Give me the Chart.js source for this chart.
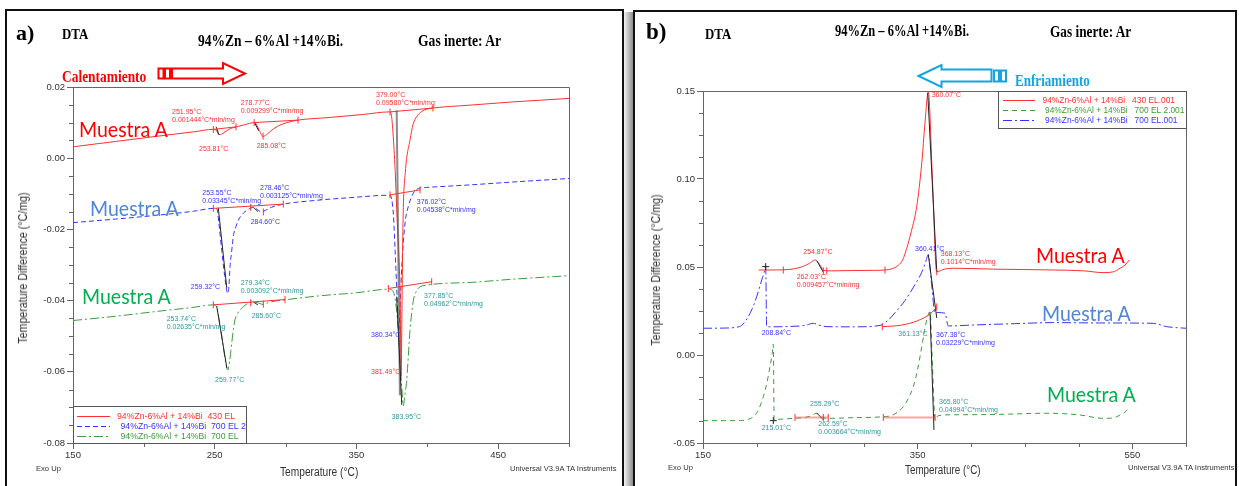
<!DOCTYPE html>
<html lang="es">
<head>
<meta charset="UTF-8">
<title>DTA 94%Zn-6%Al +14%Bi</title>
<script src="https://cdn.jsdelivr.net/npm/chart.js@4.4.1/dist/chart.umd.min.js"></script>
<style>
  body { margin: 0; background: #fff; }
  #hoja { position: relative; width: 1239px; height: 486px; overflow: hidden; font-family: "Liberation Sans", Arial, sans-serif; }
  .marco { position: absolute; border: 2px solid #111; border-bottom: none; box-sizing: border-box; height: 490px; }
  .sombra { position: absolute; left: 624px; top: 12px; width: 9px; height: 474px; background: linear-gradient(to right, #f2f2f2, #8c8c8c); }
  canvas { position: absolute; top: 0; }
  .t { position: absolute; white-space: nowrap; line-height: 1; transform-origin: 0 50%; }
  .serif { font-family: "Liberation Serif", "Times New Roman", serif; font-weight: bold; }
  .muestra { font-family: Lato, "Open Sans", sans-serif; font-size: 21px; transform: translateY(-50%) scaleX(0.93); }
  .ejeY { font-size: 12px; color: #333; transform-origin: 50% 50%; }
  .peq { font-size: 7.6px; color: #333; transform: translateY(-50%); }
</style>
</head>
<body>
<div id="hoja">
  <div class="marco" style="left:5px; top:9px; width:619px;"></div>
  <div class="sombra"></div>
  <div class="marco" style="left:633px; top:10px; width:604px;"></div>

  <canvas id="grafA" width="623" height="486" style="left:0;"></canvas>
  <canvas id="grafB" width="603" height="486" style="left:636px;"></canvas>

  <!-- cabecera a) -->
  <div class="t serif" style="left:16px; top:33px; font-size:22px; transform:translateY(-50%);">a)</div>
  <div class="t serif" style="left:62px; top:34px; font-size:15px; transform:translateY(-50%) scaleX(0.86);">DTA</div>
  <div class="t serif" style="left:198px; top:41px; font-size:16px; transform:translateY(-50%) scaleX(0.845);">94%Zn – 6%Al +14%Bi.</div>
  <div class="t serif" style="left:418px; top:41px; font-size:16px; transform:translateY(-50%) scaleX(0.85);">Gas inerte: Ar</div>
  <div class="t serif" style="left:62px; top:76px; font-size:17px; color:#ff0000; transform:translateY(-50%) scaleX(0.79);">Calentamiento</div>
  <svg style="position:absolute; left:0; top:0;" width="630" height="100">
    <g fill="#fff" stroke="#ff0000" stroke-width="2">
      <rect x="158.5" y="68.5" width="5" height="10"/>
      <rect x="165" y="68.5" width="5" height="10"/>
      <polygon points="172,68.5 223,68.5 223,63 245,73.5 223,84 223,78.5 172,78.5"/>
    </g>
  </svg>

  <!-- cabecera b) -->
  <div class="t serif" style="left:646px; top:31px; font-size:23px; transform:translateY(-50%);">b)</div>
  <div class="t serif" style="left:705px; top:34px; font-size:15px; transform:translateY(-50%) scaleX(0.86);">DTA</div>
  <div class="t serif" style="left:835px; top:31px; font-size:16px; transform:translateY(-50%) scaleX(0.78);">94%Zn – 6%Al +14%Bi.</div>
  <div class="t serif" style="left:1050px; top:32px; font-size:16px; transform:translateY(-50%) scaleX(0.83);">Gas inerte: Ar</div>
  <div class="t serif" style="left:1015px; top:80px; font-size:17px; color:#12a5e0; transform:translateY(-50%) scaleX(0.77);">Enfriamiento</div>
  <svg style="position:absolute; left:900px; top:55px;" width="120" height="40">
    <g fill="#fff" stroke="#12a5e0" stroke-width="2" transform="translate(-900,-55)">
      <polygon points="918.5,76 941.5,65 941.5,69.5 991.5,69.5 991.5,81.5 941.5,81.5 941.5,87"/>
      <rect x="994" y="70.5" width="5" height="11"/>
      <rect x="1001" y="70.5" width="5" height="11"/>
    </g>
  </svg>

  <!-- rótulos de muestra -->
  <div class="t muestra" style="left:79px; top:128px; color:#ff0000;">Muestra A</div>
  <div class="t muestra" style="left:90px; top:207px; color:#4f86d6;">Muestra A</div>
  <div class="t muestra" style="left:82px; top:295px; color:#00b050;">Muestra A</div>
  <div class="t muestra" style="left:1036px; top:254px; color:#ff0000;">Muestra A</div>
  <div class="t muestra" style="left:1042px; top:312px; color:#4f86d6;">Muestra A</div>
  <div class="t muestra" style="left:1047px; top:393px; color:#00b050;">Muestra A</div>

  <!-- títulos de ejes -->
  <div class="t ejeY" style="left:23px; top:268px; transform:translate(-50%,-50%) rotate(-90deg) scaleX(0.89);">Temperature Difference (°C/mg)</div>
  <div class="t ejeY" style="left:656px; top:270px; transform:translate(-50%,-50%) rotate(-90deg) scaleX(0.89);">Temperature Difference (°C/mg)</div>
  <div class="t" style="left:280px; top:472px; font-size:12px; color:#333; transform:translateY(-50%) scaleX(0.85);">Temperature (°C)</div>
  <div class="t" style="left:905px; top:470px; font-size:12px; color:#333; transform:translateY(-50%) scaleX(0.82);">Temperature (°C)</div>
  <div class="t peq" style="left:36px; top:469px;">Exo Up</div>
  <div class="t peq" style="left:510px; top:469px;">Universal V3.9A TA Instruments</div>
  <div class="t peq" style="left:668px; top:468px;">Exo Up</div>
  <div class="t peq" style="left:1128px; top:468px;">Universal V3.9A TA Instruments</div>
</div>

<script>
// ===== a) calentamiento =====
const tA430 = [150, 180, 210, 235, 249, 251, 253, 255, 258, 261, 265, 271, 277.8, 279.5, 281.5, 284.1, 286.5, 290, 295, 301, 308.8, 330, 355, 373, 374.5, 376, 377.5, 378.7, 380, 380.9, 381.5, 382.2, 382.9, 384.5, 387.8, 390, 392.6, 396, 399.6, 404, 430, 460, 500];
const dA430 = [0.0032, 0.0047, 0.0062, 0.0074, 0.0081, 0.0079, 0.0066, 0.0068, 0.0076, 0.0083, 0.0088, 0.0094, 0.0100, 0.0095, 0.0078, 0.0061, 0.0066, 0.0078, 0.0091, 0.0100, 0.0107, 0.0114, 0.0123, 0.0130, 0.0124, 0.0060, -0.0050, -0.0170, -0.0280, -0.0400, -0.0612, -0.0400, -0.0174, -0.0040, 0.0051, 0.0095, 0.0117, 0.0131, 0.0138, 0.0141, 0.0149, 0.0158, 0.0168];

const tA700e2 = [150, 180, 210, 235, 249, 251.5, 253, 255, 257, 259.2, 260, 260.8, 262, 263.1, 265, 266.7, 269, 271.4, 274, 277.3, 280, 283.1, 286, 290, 298.4, 320, 345, 373.7, 376, 377.2, 378.5, 379.8, 380.8, 382, 384.3, 386.6, 390.2, 393.7, 399.6, 430, 460, 500];
const dA700e2 = [-0.0181, -0.0171, -0.0160, -0.0149, -0.0141, -0.0142, -0.0185, -0.0260, -0.0330, -0.0380, -0.0360, -0.0305, -0.0260, -0.0220, -0.0192, -0.0174, -0.0160, -0.0150, -0.0143, -0.0138, -0.0144, -0.0151, -0.0146, -0.0138, -0.0129, -0.0119, -0.0111, -0.0104, -0.0154, -0.0250, -0.0370, -0.0483, -0.0420, -0.0305, -0.0182, -0.0136, -0.0098, -0.0085, -0.0082, -0.0075, -0.0067, -0.0057];

const tA700 = [150, 180, 210, 235, 249, 251, 253, 255, 257, 259.2, 260.5, 262, 263.2, 264.3, 266, 267.9, 272.6, 278, 281, 284.3, 288, 299.6, 323, 350, 372.5, 375.5, 377.5, 379.5, 381, 382.3, 383.1, 384, 385.5, 386.7, 387.8, 389, 390.2, 391.8, 393.7, 399, 430, 460, 500];
const dA700 = [-0.0456, -0.0444, -0.0430, -0.0419, -0.0412, -0.0416, -0.0450, -0.0500, -0.0555, -0.0595, -0.0570, -0.0520, -0.0480, -0.0454, -0.0437, -0.0426, -0.0410, -0.0404, -0.0407, -0.0411, -0.0405, -0.0398, -0.0387, -0.0378, -0.0368, -0.0372, -0.0400, -0.0480, -0.0580, -0.0660, -0.0696, -0.0670, -0.0623, -0.0550, -0.0483, -0.0435, -0.0399, -0.0378, -0.0365, -0.0357, -0.0349, -0.0340, -0.0330];

const nombresA = ['94%Zn-6%Al + 14%Bi  430 EL', '94%Zn-6%Al + 14%Bi  700 EL 2', '94%Zn-6%Al + 14%Bi  700 EL'];
const ticksXA = [150, 250, 350, 450];
const ticksYA = [-0.08, -0.06, -0.04, -0.02, 0.00, 0.02];

// líneas base, tangentes y marcas del análisis
const baseA = [
  [[249, 0.0081], [265, 0.0088]], [[277.8, 0.0100], [308.8, 0.0107]], [[373.7, 0.0130], [404, 0.0141]],
  [[249, -0.0141], [298.4, -0.0129]], [[373.7, -0.0103], [394.9, -0.0089]],
  [[249, -0.0412], [299.6, -0.0397]], [[372.5, -0.0366], [403.1, -0.0347]]
];
const tangA = [
  [[251, 0.0088], [253, 0.0066]], [[278, 0.0101], [281, 0.0077]],
  [[252.5, -0.0139], [258.5, -0.0364]], [[277.3, -0.0138], [280.5, -0.0150]],
  [[251.4, -0.0415], [258.6, -0.0590]], [[277.3, -0.0404], [280.5, -0.0412]],
  [[378.4, -0.0389], [382, -0.0693]]
];
const grisA = [[[378.4, 0.0135], [380.7, -0.0666]]];
const marcasA = [
  [249, 0.0081], [265, 0.0088], [277.8, 0.0100], [284.1, 0.0062], [308.8, 0.0107], [373.7, 0.0130], [404, 0.0141],
  [249, -0.0141], [275.4, -0.0138], [284.3, -0.0151], [298.4, -0.0129], [373.7, -0.0103], [394.9, -0.0089],
  [249, -0.0412], [275.4, -0.0406], [284.3, -0.0410], [299.6, -0.0397], [372.5, -0.0366], [403.1, -0.0347]
];

const etqA430 = [
  [219.9, 0.0130, '251.95°C\n0.001444°C*min/mg'], [238.9, 0.0026, '253.81°C'],
  [268.3, 0.0154, '278.77°C\n0.009299°C*min/mg'], [279.6, 0.0035, '285.08°C'],
  [363.8, 0.0178, '379.00°C\n0.09580°C*min/mg'], [360.3, -0.0601, '381.49°C']
];
const etqA700e2 = [
  [241.2, -0.0099, '253.55°C\n0.03345°C*min/mg'], [282.0, -0.0085, '278.46°C\n0.003125°C*min/mg'],
  [275.4, -0.0178, '284.60°C'], [233.1, -0.0363, '259.32°C'],
  [392.6, -0.0124, '376.02°C\n0.04538°C*min/mg'], [360.3, -0.0497, '380.34°C']
];
const etqA700 = [
  [268.3, -0.0351, '279.34°C\n0.003092°C*min/mg'], [216.1, -0.0452, '253.74°C\n0.02635°C*min/mg'],
  [276.1, -0.0443, '285.60°C'], [250.2, -0.0623, '259.77°C'],
  [397.7, -0.0386, '377.85°C\n0.04962°C*min/mg'], [374.9, -0.0726, '383.95°C']
];

// ===== b) enfriamiento =====
const tB430 = [202, 215, 225, 235, 243, 249, 254.4, 257.5, 260, 262.5, 270, 290, 310, 319.6, 326, 332, 336, 339.8, 344, 349.1, 353.8, 356.8, 359.9, 363.8, 367.7, 375, 383, 420, 476, 505, 522.7, 532, 538.5, 543, 547.2];
const dB430 = [0.0483, 0.0483, 0.0484, 0.0490, 0.0503, 0.0520, 0.0540, 0.0525, 0.0500, 0.0480, 0.0478, 0.0480, 0.0481, 0.0483, 0.0490, 0.0510, 0.0540, 0.0606, 0.0700, 0.0843, 0.1089, 0.1317, 0.1495, 0.0990, 0.0473, 0.0488, 0.0493, 0.0488, 0.0483, 0.0478, 0.0468, 0.0472, 0.0493, 0.0510, 0.0540];

const tB700e2 = [150, 170, 185, 192, 196.9, 201, 206.2, 209.5, 212.4, 214.3, 215.5, 216.3, 220, 234.1, 245, 251, 255.9, 259, 262, 266, 290, 315, 327, 336.6, 341, 345.9, 350, 353.8, 356.5, 358.4, 361.5, 363.8, 366.2, 369, 380, 420, 470.2, 500, 523, 532, 538.5, 543, 547.8];
const dB700e2 = [-0.0373, -0.0373, -0.0372, -0.0366, -0.0351, -0.0320, -0.0237, -0.0160, -0.0066, 0.0000, 0.0061, -0.0369, -0.0366, -0.0360, -0.0355, -0.0345, -0.0331, -0.0340, -0.0355, -0.0360, -0.0356, -0.0352, -0.0340, -0.0294, -0.0250, -0.0180, -0.0080, 0.0047, 0.0140, 0.0199, 0.0246, -0.0060, -0.0369, -0.0345, -0.0340, -0.0338, -0.0331, -0.0340, -0.0360, -0.0358, -0.0341, -0.0325, -0.0294];

const tB700 = [150, 170, 180, 186, 192.2, 196, 200, 202.5, 204.7, 206.8, 208.4, 209.3, 215, 230, 245, 252.8, 258, 265.6, 290, 314.9, 322, 328.9, 338.2, 347.5, 353.8, 357.5, 359.9, 363, 366.2, 369, 372, 375.5, 378.5, 400, 440, 476, 520, 569.5, 582, 600];
const dB700 = [0.0152, 0.0153, 0.0157, 0.0168, 0.0218, 0.0265, 0.0331, 0.0380, 0.0426, 0.0465, 0.0502, 0.0161, 0.0160, 0.0162, 0.0168, 0.0180, 0.0170, 0.0161, 0.0160, 0.0168, 0.0195, 0.0240, 0.0310, 0.0400, 0.0470, 0.0530, 0.0570, 0.0400, 0.0237, 0.0242, 0.0240, 0.0237, 0.0165, 0.0170, 0.0178, 0.0184, 0.0182, 0.0180, 0.0161, 0.0152];

const nombresB = ['94%Zn-6%Al + 14%Bi   430 EL.001', '94%Zn-6%Al + 14%Bi   700 EL 2.001', '94%Zn-6%Al + 14%Bi   700 EL.001'];
const ticksXB = [150, 350, 550];
const ticksYB = [-0.05, 0.00, 0.05, 0.10, 0.15];

const baseCurvaB = [[317, 0.0161], [335, 0.0170], [350, 0.0195], [362, 0.0235], [367.8, 0.0273]];
const baseGruesaB = [[[235.7, -0.0355], [266.7, -0.0355]], [[318, -0.0355], [366.2, -0.0355]]];
const tangB = [
  [[256, 0.0536], [262.1, 0.0470]], [[359.4, 0.1489], [367.8, 0.0472]],
  [[359.9, 0.0570], [367.8, 0.0210]], [[361.5, 0.0244], [365.2, -0.0426]],
  [[256, -0.0330], [262.1, -0.0368]]
];
const marcasB = [
  [224.8, 0.0483], [262.1, 0.0478], [265.3, 0.0478], [319.6, 0.0483], [367.8, 0.0473],
  [317, 0.0161], [367.8, 0.0273],
  [235.7, -0.0355], [262.1, -0.0355], [266.7, -0.0355], [318, -0.0355], [366.2, -0.0355]
];
const crucesB = [[208.4, 0.0502], [215.5, -0.0373]];

const etqB430 = [
  [363.1, 0.1477, '360.07°C'], [243.4, 0.0587, '254.87°C'],
  [237.3, 0.0442, '262.03°C\n0.009457°C*min/mg'], [371.5, 0.0574, '368.13°C\n0.1014°C*min/mg']
];
const etqB700 = [
  [347.5, 0.0601, '360.41°C'], [204.7, 0.0123, '208.84°C'], [367.1, 0.0114, '367.38°C\n0.03229°C*min/mg']
];
const etqB700e2 = [
  [332.0, 0.0118, '361.13°C'], [204.7, -0.0413, '215.01°C'], [249.7, -0.0280, '255.29°C'],
  [257.4, -0.0392, '262.59°C\n0.003664°C*min/mg'], [369.9, -0.0269, '365.80°C\n0.04994°C*min/mg']
];

// ===== colores =====
const ROJO = '#ff3030', AZUL = '#3434ff', VERDE = '#3c9c3c', TURQ = '#2b9a9a';

Chart.defaults.font.family = '"Liberation Sans", Arial, sans-serif';
Chart.defaults.color = '#333';

const pts = (t, d) => t.map((x, i) => ({ x, y: d[i] }));
const par = l => l.map(([x, y]) => ({ x, y }));
// tramos separados por huecos
const tramos = l => l.flatMap(s => [...par(s), { x: s[s.length - 1][0], y: null }]);

const curva = (t, d, color, dash) => ({
  data: pts(t, d), borderColor: color, borderWidth: 1, borderDash: dash || [],
  pointRadius: 0, cubicInterpolationMode: 'monotone', order: 2
});
const trazo = (data, color, ancho) => ({
  data, borderColor: color, borderWidth: ancho || 1, pointRadius: 0, spanGaps: false, order: 1
});
const marcas = (l, color, estilo) => ({
  data: par(l), showLine: false, pointStyle: estilo || 'line', rotation: estilo ? 0 : 90,
  pointRadius: 3.5, borderColor: color, borderWidth: 1, order: 0
});

function menores(min, max, paso, mayores) {
  const r = [];
  for (let v = min; v <= max + 1e-9; v += paso) {
    if (!mayores.some(m => Math.abs(m - v) < 1e-9)) r.push(v);
  }
  return r;
}

// recuadro del área de trazado + marcas menores
const marcoPlugin = {
  id: 'marco',
  afterDraw(chart, args, o) {
    const { ctx, chartArea: a, scales: { x, y } } = chart;
    ctx.save();
    ctx.strokeStyle = '#666';
    ctx.lineWidth = 1;
    ctx.beginPath();
    ctx.moveTo(a.left, a.top + 0.5);
    ctx.lineTo(a.right + 0.5, a.top + 0.5);
    ctx.lineTo(a.right + 0.5, a.bottom);
    o.menoresX.forEach(v => {
      const px = Math.round(x.getPixelForValue(v)) + 0.5;
      ctx.moveTo(px, a.bottom); ctx.lineTo(px, a.bottom + 4);
    });
    o.menoresY.forEach(v => {
      const py = Math.round(y.getPixelForValue(v)) + 0.5;
      ctx.moveTo(a.left, py); ctx.lineTo(a.left - 4, py);
    });
    ctx.stroke();
    ctx.restore();
  }
};

// rótulos de temperatura / entalpía junto a los picos
const rotulosPlugin = {
  id: 'rotulos',
  afterDatasetsDraw(chart, args, o) {
    const { ctx, scales: { x, y } } = chart;
    ctx.save();
    ctx.font = '7px "Liberation Sans", Arial, sans-serif';
    ctx.textBaseline = 'middle';
    o.grupos.forEach(g => {
      ctx.fillStyle = g.color;
      g.items.forEach(([t, v, txt]) => {
        const px = x.getPixelForValue(t), py = y.getPixelForValue(v);
        txt.split('\n').forEach((l, i) => ctx.fillText(l, px, py + i * 8));
      });
    });
    ctx.restore();
  }
};

// leyenda en caja, igual que la del equipo
const leyendaPlugin = {
  id: 'leyendaCaja',
  afterDraw(chart, args, o) {
    const { ctx, chartArea: a } = chart;
    const x0 = o.derecha ? a.right - o.ancho : a.left;
    const y0 = o.abajo ? a.bottom - o.alto : a.top;
    ctx.save();
    ctx.fillStyle = '#fff';
    ctx.fillRect(x0, y0, o.ancho, o.alto);
    ctx.strokeStyle = '#555';
    ctx.lineWidth = 1;
    ctx.strokeRect(x0 + 0.5, y0 + 0.5, o.ancho, o.alto);
    ctx.beginPath();
    ctx.rect(x0, y0, o.ancho, o.alto);
    ctx.clip();
    ctx.font = o.fuente + 'px "Liberation Sans", Arial, sans-serif';
    ctx.textBaseline = 'middle';
    o.textos.forEach((txt, i) => {
      const ds = chart.data.datasets[i];
      const yy = Math.round(y0 + o.fila0 + i * o.paso) + 0.5;
      ctx.strokeStyle = ds.borderColor;
      ctx.setLineDash(ds.borderDash);
      ctx.beginPath();
      ctx.moveTo(x0 + o.linea[0], yy);
      ctx.lineTo(x0 + o.linea[1], yy);
      ctx.stroke();
      ctx.setLineDash([]);
      ctx.fillStyle = o.colores[i];
      ctx.fillText(txt, x0 + o.texto[i], yy);
    });
    ctx.restore();
  }
};

function escalas(xr, yr, tx, ty, anchoY) {
  return {
    x: {
      type: 'linear', min: xr[0], max: xr[1],
      afterFit: s => { s.height = 25; },
      afterBuildTicks: s => { s.ticks = tx.map(v => ({ value: v })); },
      ticks: { callback: v => String(v), font: { size: 9.5 }, color: '#333', padding: 1, maxRotation: 0, autoSkip: false },
      grid: { drawOnChartArea: false, tickLength: 6, color: '#666' },
      border: { color: '#666' }
    },
    y: {
      type: 'linear', min: yr[0], max: yr[1],
      afterFit: s => { s.width = anchoY; },
      afterBuildTicks: s => { s.ticks = ty.map(v => ({ value: v })); },
      ticks: { callback: v => v.toFixed(2), font: { size: 9.5 }, color: '#333', padding: 2, autoSkip: false },
      grid: { drawOnChartArea: false, tickLength: 6, color: '#666' },
      border: { color: '#666' }
    }
  };
}

const base = {
  responsive: false, animation: false, devicePixelRatio: 1,
  events: []
};

// ---- gráfico a)
new Chart(document.getElementById('grafA'), {
  type: 'line',
  data: {
    datasets: [
      curva(tA430, dA430, ROJO),
      curva(tA700e2, dA700e2, AZUL, [5, 3]),
      curva(tA700, dA700, VERDE, [9, 3, 2, 3]),
      trazo(tramos(baseA), ROJO),
      trazo(tramos(tangA), '#222'),
      trazo(tramos(grisA), 'rgba(90,90,90,0.7)', 2),
      marcas(marcasA, ROJO)
    ]
  },
  options: {
    ...base,
    layout: { padding: { left: 33, right: 54, top: 87, bottom: 18 } },
    scales: escalas([150, 500], [-0.08, 0.02], ticksXA, ticksYA, 40),
    plugins: {
      legend: { display: false }, tooltip: { enabled: false },
      marco: { menoresX: [200, 300, 400, 500], menoresY: menores(-0.08, 0.02, 0.005, ticksYA) },
      rotulos: { grupos: [{ color: ROJO, items: etqA430 }, { color: AZUL, items: etqA700e2 }, { color: TURQ, items: etqA700 }] },
      leyendaCaja: {
        abajo: true, ancho: 173, alto: 37, fila0: 10, paso: 9.8, fuente: 8.7,
        linea: [4, 37], texto: [44, 47.5, 47.5], textos: nombresA, colores: [ROJO, AZUL, VERDE]
      }
    }
  },
  plugins: [marcoPlugin, rotulosPlugin, leyendaPlugin]
});

// ---- gráfico b)
new Chart(document.getElementById('grafB'), {
  type: 'line',
  data: {
    datasets: [
      curva(tB430, dB430, ROJO),
      curva(tB700e2, dB700e2, VERDE, [5, 4]),
      curva(tB700, dB700, AZUL, [9, 3, 2, 3]),
      { ...trazo(par(baseCurvaB), ROJO), cubicInterpolationMode: 'monotone' },
      trazo(tramos(baseGruesaB), 'rgba(255,90,90,0.55)', 2),
      trazo(tramos(tangB), '#222'),
      marcas(marcasB, ROJO),
      marcas(crucesB, '#222', 'cross')
    ]
  },
  options: {
    ...base,
    layout: { padding: { left: 27, right: 53, top: 91, bottom: 18 } },
    scales: escalas([150, 600], [-0.05, 0.15], ticksXB, ticksYB, 40),
    plugins: {
      legend: { display: false }, tooltip: { enabled: false },
      marco: { menoresX: [200, 250, 300, 400, 450, 500, 600], menoresY: menores(-0.05, 0.15, 0.0125, ticksYB) },
      rotulos: { grupos: [{ color: ROJO, items: etqB430 }, { color: AZUL, items: etqB700 }, { color: TURQ, items: etqB700e2 }] },
      leyendaCaja: {
        derecha: true, ancho: 188, alto: 37, fila0: 9, paso: 10, fuente: 8.4,
        linea: [5, 37], texto: [44.5, 47, 47], textos: nombresB, colores: [ROJO, VERDE, AZUL]
      }
    }
  },
  plugins: [marcoPlugin, rotulosPlugin, leyendaPlugin]
});
</script>
</body>
</html>
